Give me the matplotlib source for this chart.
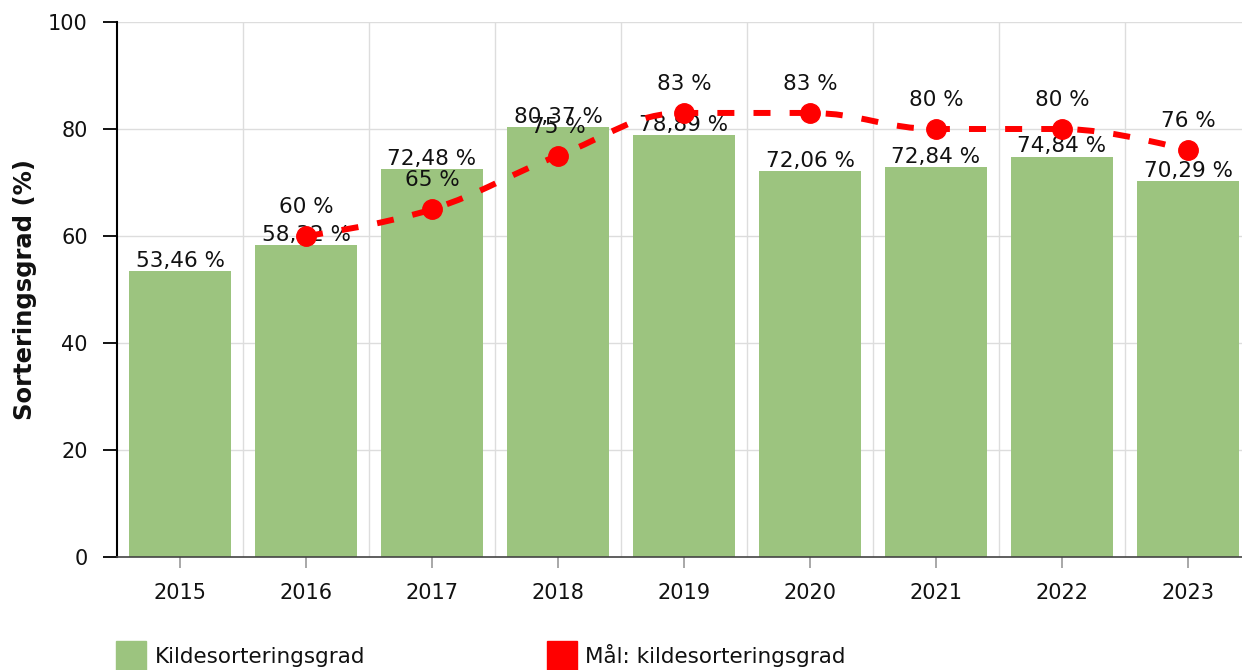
import numpy as np
import matplotlib
matplotlib.use('Agg')
import matplotlib.pyplot as plt
from matplotlib.path import Path
from matplotlib.patches import PathPatch, Rectangle

# ---- data ----
years = ['2015', '2016', '2017', '2018', '2019', '2020', '2021', '2022', '2023']
actual = [53.46, 58.32, 72.48, 80.37, 78.89, 72.06, 72.84, 74.84, 70.29]
target_years = ['2016', '2017', '2018', '2019', '2020', '2021', '2022', '2023']
target = [60, 65, 75, 83, 83, 80, 80, 76]
y_ticks = [0, 20, 40, 60, 80, 100]
series_names = ['Kildesorteringsgrad', 'Mål: kildesorteringsgrad']
y_label = 'Sorteringsgrad (%)'

BAR_COLOR = '#9cc47f'
LINE_COLOR = '#ff0000'
FONT = 'DejaVu Sans'
FS = 15
FS_DATA = 15.5

plt.rcParams['font.family'] = [FONT]


def fmt_dec(v):
    return f"{v:.2f}".replace('.', ',') + ' %'


def fmt_int(v):
    return f"{v:.0f} %"


def spline_path(xs, ys, smoothing=1.5):
    n = len(xs)
    denom = smoothing + 1
    lc = [None] * n
    rc = [None] * n
    for i in range(1, n - 1):
        px, py = xs[i], ys[i]
        lx, ly = xs[i - 1], ys[i - 1]
        nx, ny = xs[i + 1], ys[i + 1]
        lcx = (smoothing * px + lx) / denom
        lcy = (smoothing * py + ly) / denom
        rcx = (smoothing * px + nx) / denom
        rcy = (smoothing * py + ny) / denom
        if rcx != lcx:
            corr = ((rcy - lcy) * (rcx - px)) / (rcx - lcx) + py - rcy
            lcy += corr
            rcy += corr
        if lcy > ly and lcy > py:
            lcy = max(ly, py); rcy = 2 * py - lcy
        elif lcy < ly and lcy < py:
            lcy = min(ly, py); rcy = 2 * py - lcy
        if rcy > ny and rcy > py:
            rcy = max(ny, py); lcy = 2 * py - rcy
        elif rcy < ny and rcy < py:
            rcy = min(ny, py); lcy = 2 * py - rcy
        lc[i] = (lcx, lcy)
        rc[i] = (rcx, rcy)
    verts = [(xs[0], ys[0])]
    codes = [Path.MOVETO]
    for i in range(1, n):
        c1 = rc[i - 1] if rc[i - 1] is not None else (xs[i - 1], ys[i - 1])
        c2 = lc[i] if lc[i] is not None else (xs[i], ys[i])
        verts += [c1, c2, (xs[i], ys[i])]
        codes += [Path.CURVE4] * 3
    return Path(verts, codes)


W, H = 1242, 670
fig = plt.figure(figsize=(W / 100, H / 100), dpi=100)
ax = fig.add_axes([117 / W, 113 / H, 1134 / W, 535 / H])

x = np.arange(len(years))
tx = np.array([years.index(y) for y in target_years], dtype=float)

ax.bar(x, actual, width=0.81, color=BAR_COLOR, zorder=2)

ax.set_xlim(-0.5, len(years) - 0.5)
ax.set_ylim(0, 100)

# grid
ax.set_axisbelow(True)
ax.set_yticks(y_ticks)
ax.set_yticklabels([str(t) for t in y_ticks])
ax.set_xticks(x)
ax.set_xticklabels(years)
ax.set_xticks(np.arange(len(years) - 1) + 0.5, minor=True)
ax.yaxis.grid(True, color='#dddddd', lw=1, zorder=0)
ax.xaxis.grid(True, which='minor', color='#dddddd', lw=1, zorder=0)
ax.tick_params(axis='x', which='minor', length=0)
ax.tick_params(axis='x', which='major', length=8, width=1.2, color='#999999',
               pad=11, labelsize=FS, labelcolor='#111111')
ax.tick_params(axis='y', length=10, width=1.3, color='black', pad=11,
               labelsize=FS, labelcolor='#111111')

for s in ['top', 'right']:
    ax.spines[s].set_visible(False)
ax.spines['left'].set_color('black')
ax.spines['left'].set_linewidth(1.5)
ax.spines['bottom'].set_color('#444444')
ax.spines['bottom'].set_linewidth(1.2)

# bar labels
for xi, v in zip(x, actual):
    ax.annotate(fmt_dec(v), (xi, v), xytext=(0, 3), textcoords='offset points',
                ha='center', va='baseline', fontsize=FS_DATA, color='#111111', zorder=3)

# target line
path = spline_path(list(tx), list(target))
patch = PathPatch(path, fill=False, edgecolor=LINE_COLOR, lw=4.3,
                  linestyle=(0, (2.85, 3.2)), capstyle='butt', zorder=4)
ax.add_patch(patch)
ax.plot(tx, target, 'o', color=LINE_COLOR, ms=14, mec=LINE_COLOR, zorder=5)
for xi, v in zip(tx, target):
    ax.annotate(fmt_int(v), (xi, v), xytext=(0, 16.5), textcoords='offset points',
                ha='center', va='baseline', fontsize=FS_DATA, color='#111111', zorder=6)

# y label
fig.text(25 / W, 1 - 289.5 / H, y_label, rotation=90, ha='center', va='center',
         fontsize=17.5, fontweight='bold', color='#111111')

# legend (manual)
sq = 30
for (lx, tx_, col, name) in [(116, 155, BAR_COLOR, series_names[0]),
                              (547, 585, LINE_COLOR, series_names[1])]:
    fig.patches.append(Rectangle((lx / W, (H - 641 - sq) / H), sq / W, sq / H,
                                 transform=fig.transFigure, facecolor=col,
                                 edgecolor=col, lw=1))
    fig.text(tx_ / W, 7 / H, name, ha='left', va='baseline', fontsize=15.5,
             color='#111111')

fig.savefig('out.png', dpi=100)
